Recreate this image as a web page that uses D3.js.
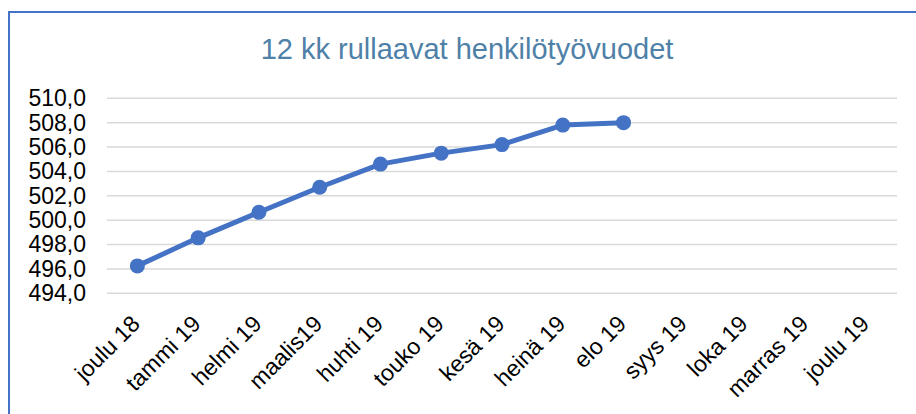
<!DOCTYPE html>
<html>
<head>
<meta charset="utf-8">
<script src="https://cdn.jsdelivr.net/npm/d3@7"></script>
<style>
  body { margin: 0; background: #fff; }
  text { font-family: Arial, "Liberation Sans", sans-serif; }
</style>
</head>
<body>
<div id="chart-area"></div>
<script>
// data
var months = ['joulu 18', 'tammi 19', 'helmi 19', 'maalis19', 'huhti 19', 'touko 19',
              'kesä 19', 'heinä 19', 'elo 19', 'syys 19', 'loka 19', 'marras 19', 'joulu 19']
var values = [496.25, 498.55, 500.65, 502.7, 504.6, 505.5, 506.2, 507.8, 508.0]
var yTicks = [494, 496, 498, 500, 502, 504, 506, 508, 510]

var W = 916, H = 414
var plot = {left: 107, right: 897, top: 98.3, bottom: 293.3}

svg = d3.select('#chart-area').append('svg')
	.attr('width', W)
	.attr('height', H)

// chart frame
svg.append('rect')
	.attr('x', 9).attr('y', 12)
	.attr('width', W + 20).attr('height', H + 20)
	.attr('fill', '#fff')
	.attr('stroke', '#4472C4')
	.attr('stroke-width', 2)

// title
svg.append('text')
	.attr('x', 467)
	.attr('y', 59)
	.attr('text-anchor', 'middle')
	.attr('font-size', '29px')
	.attr('fill', '#4F81A8')
	.text('12 kk rullaavat henkilötyövuodet')

// scales
var xScale = d3.scaleBand()
	.domain(months)
	.range([plot.left, plot.right])

var yScale = d3.scaleLinear()
	.domain([494, 510])
	.range([plot.bottom, plot.top])

// gridlines
svg.append('g')
	.selectAll('line')
	.data(yTicks)
	.enter()
	.append('line')
	.attr('x1', plot.left)
	.attr('x2', plot.right)
	.attr('y1', d => yScale(d))
	.attr('y2', d => yScale(d))
	.attr('stroke', '#d9d9d9')
	.attr('stroke-width', 1.5)

// y axis labels
var yAxis = d3.axisLeft(yScale)
	.tickValues(yTicks)
	.tickSize(0)
	.tickPadding(0)
	.tickFormat(d => d3.format('.1f')(d).replace('.', ','))

var yg = svg.append('g')
	.attr('transform', 'translate(86,0)')
	.call(yAxis)
yg.select('.domain').remove()
yg.selectAll('text')
	.attr('font-size', '23px')
	.attr('font-family', 'Arial, "Liberation Sans", sans-serif')
	.attr('fill', '#000')

// x axis labels, rotated
var xAxis = d3.axisBottom(xScale).tickSize(0).tickPadding(0)
var xg = svg.append('g')
	.attr('transform', 'translate(0,' + plot.bottom + ')')
	.call(xAxis)
xg.select('.domain').remove()
xg.selectAll('text')
	.attr('font-size', '23px')
	.attr('font-family', 'Arial, "Liberation Sans", sans-serif')
	.attr('fill', '#000')
	.attr('text-anchor', 'end')
	.attr('dy', '0')
	.attr('y', 0)
	.attr('transform', 'translate(4,32) rotate(-45)')

// line + markers
var line = d3.line()
	.x((d, i) => xScale(months[i]) + xScale.bandwidth() / 2)
	.y(d => yScale(d))

svg.append('path')
	.datum(values)
	.attr('d', line)
	.attr('fill', 'none')
	.attr('stroke', '#4472C4')
	.attr('stroke-width', 5)
	.attr('stroke-linejoin', 'round')

svg.append('g')
	.selectAll('circle')
	.data(values)
	.enter()
	.append('circle')
	.attr('cx', (d, i) => xScale(months[i]) + xScale.bandwidth() / 2)
	.attr('cy', d => yScale(d))
	.attr('r', 7.5)
	.attr('fill', '#4472C4')
</script>
</body>
</html>
